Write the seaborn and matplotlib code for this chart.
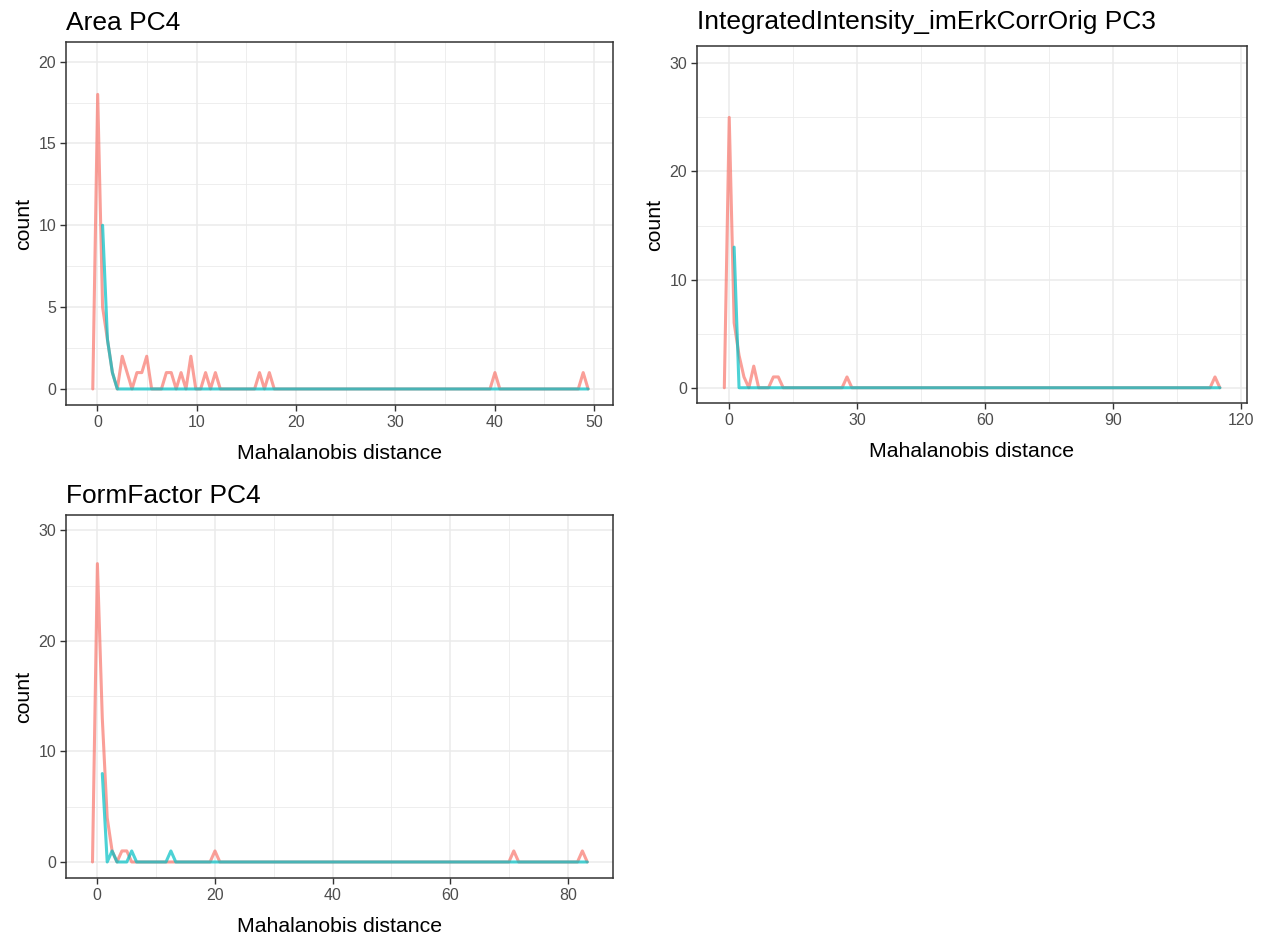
import numpy as np
import pandas as pd
import matplotlib
matplotlib.use("Agg")
import matplotlib.pyplot as plt
import seaborn as sns
from matplotlib.ticker import MultipleLocator

# Mahalanobis distances (where cells pile up) and how many cells sit there
# group a = first colour (salmon), group b = second colour (teal)
area_a_x = [0.02, 0.514, 1.007, 1.5, 2.49, 2.98, 3.97, 4.46, 4.96, 6.93, 7.43,
            8.41, 9.40, 10.88, 11.87, 16.31, 17.30, 40.01, 48.9]
area_a_n = [18, 5, 3, 1, 2, 1, 1, 1, 2, 1, 1, 1, 2, 1, 1, 1, 1, 1, 1]
area_b_x = [0.514, 1.007, 1.5]
area_b_n = [10, 3, 1]

intens_a_x = [0.1, 1.25, 2.4, 3.55, 5.85, 10.45, 11.6, 27.69, 113.9]
intens_a_n = [25, 6, 3, 1, 2, 1, 1, 1, 1]
intens_b_x = [1.25]
intens_b_n = [13]

form_a_x = [0.08, 0.91, 1.74, 2.57, 4.24, 5.07, 20.04, 70.76, 82.4]
form_a_n = [27, 13, 4, 1, 1, 1, 1, 1, 1]
form_b_x = [0.91, 2.57, 5.9, 12.55]
form_b_n = [8, 1, 1, 1]

titles = ["Area PC4", "IntegratedIntensity_imErkCorrOrig PC3", "FormFactor PC4"]
n_bins = 100

RED = "#F8766D"
TEAL = "#00BFC4"


def freqpoly(a_x, a_n, b_x, b_n, bins=n_bins):
    va = np.repeat(a_x, a_n)
    vb = np.repeat(b_x, b_n)
    lo = min(va.min(), vb.min())
    hi = max(va.max(), vb.max())
    w = (hi - lo) / (bins - 1)
    edges = lo - w / 2 + w * np.arange(bins + 1)
    mids = lo + w * np.arange(-1, bins + 1)
    frames = []
    for g, v in (("a", va), ("b", vb)):
        cnt, _ = np.histogram(v, edges)
        cnt = np.r_[0, cnt, 0]
        df = pd.DataFrame({"x": mids, "count": cnt, "group": g})
        if g == "b":
            # second group is only drawn from its first non-empty bin
            first = np.argmax(cnt > 0)
            df = df.iloc[first:]
        frames.append(df)
    return pd.concat(frames, ignore_index=True)


sns.set_style("white")
plt.rcParams["font.family"] = ["Liberation Sans", "DejaVu Sans"]

W, H = 1270, 938
fig = plt.figure(figsize=(W / 100, H / 100), dpi=100)

# panel boxes in pixels: left, top, right, bottom
boxes = [(66, 42, 613, 405), (697, 46, 1247, 403), (66, 515, 613, 878)]
xlims = [(-3.17, 51.9), (-7.45, 121.4), (-5.25, 87.6)]
ylims = [(-0.98, 21.2), (-1.41, 31.6), (-1.45, 31.4)]
xmaj = [10, 30, 20]
ymaj = [5, 10, 10]
title_pad = [9, 12, 9]
data = [
    freqpoly(area_a_x, area_a_n, area_b_x, area_b_n),
    freqpoly(intens_a_x, intens_a_n, intens_b_x, intens_b_n),
    freqpoly(form_a_x, form_a_n, form_b_x, form_b_n),
]

for i in range(3):
    l, t, r, b = boxes[i]
    ax = fig.add_axes([l / W, 1 - b / H, (r - l) / W, (b - t) / H])
    sns.lineplot(data=data[i], x="x", y="count", hue="group",
                 hue_order=["a", "b"], palette=[RED, TEAL],
                 estimator=None, sort=False, legend=False,
                 linewidth=2.2, alpha=0.7, ax=ax)
    ax.set_xlim(*xlims[i])
    ax.set_ylim(*ylims[i])
    ax.xaxis.set_major_locator(MultipleLocator(xmaj[i]))
    ax.xaxis.set_minor_locator(MultipleLocator(xmaj[i] / 2))
    ax.yaxis.set_major_locator(MultipleLocator(ymaj[i]))
    ax.yaxis.set_minor_locator(MultipleLocator(ymaj[i] / 2))
    ax.grid(which="major", color="#EBEBEB", linewidth=1.1)
    ax.grid(which="minor", color="#EBEBEB", linewidth=0.6)
    ax.set_axisbelow(True)
    for s in ax.spines.values():
        s.set_color("#333333")
        s.set_linewidth(1.1)
    ax.tick_params(which="major", direction="out", length=4, width=1.0,
                   color="#333333", labelsize=11.5, labelcolor="#4D4D4D",
                   pad=3, bottom=True, left=True)
    ax.tick_params(which="minor", length=0)
    ax.set_xlabel("Mahalanobis distance", fontsize=15.3, labelpad=10, color="black")
    ax.set_ylabel("count", fontsize=15.3, labelpad=4, color="black")
    ax.set_title(titles[i], loc="left", fontsize=19, pad=title_pad[i], color="black")

fig.savefig("out.png", dpi=100, facecolor="white")
